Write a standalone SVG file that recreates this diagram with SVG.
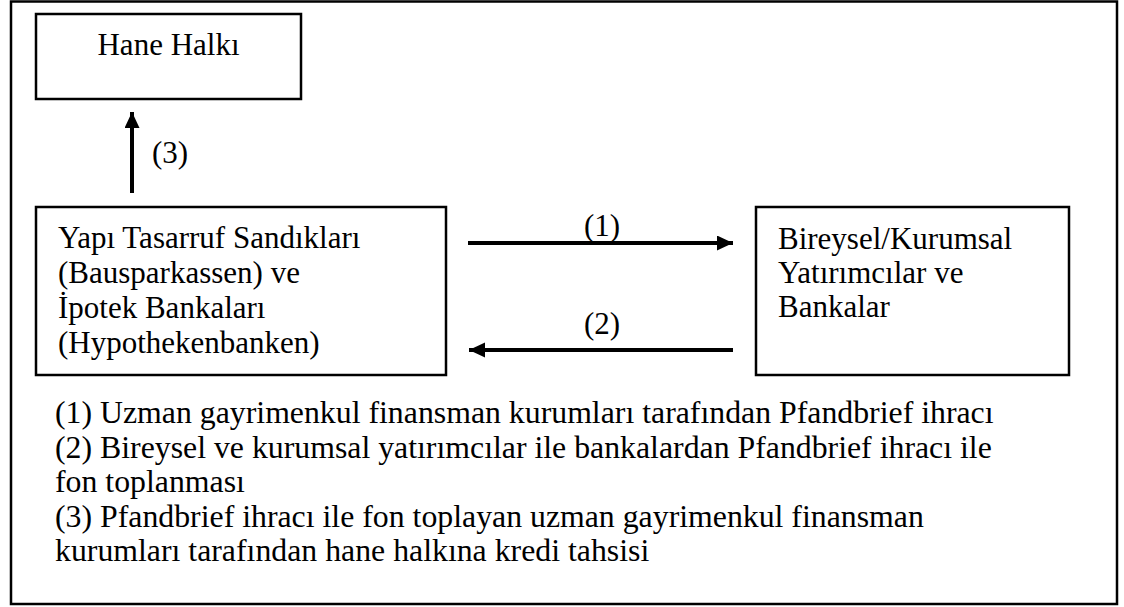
<svg xmlns="http://www.w3.org/2000/svg" width="1124" height="607" viewBox="0 0 1124 607">
  <style>
    .box { fill: #ffffff; stroke: #000000; stroke-width: 2.5; }
    .t { font-family: "Liberation Serif", "Times New Roman", serif; font-size: 31px; fill: #000000; }
    .lg { font-size: 31.8px; }
    .conn { stroke: #000000; stroke-width: 4; fill: none; }
  </style>
  <defs>
    <marker id="ah" markerUnits="userSpaceOnUse" markerWidth="18" markerHeight="18" refX="16" refY="7.5" orient="auto">
      <path d="M0,0 L16,7.5 L0,15 Z" fill="#000000"/>
    </marker>
  </defs>
  <rect x="0" y="0" width="1124" height="607" fill="#ffffff"/>
  <rect id="frame" x="11" y="1.5" width="1106" height="602.5" fill="none" stroke="#000000" stroke-width="2.5"/>

  <g id="hane">
    <rect class="box" x="36" y="14" width="265" height="85"/>
    <text class="t" x="168.5" y="55" text-anchor="middle">Hane Halkı</text>
  </g>

  <g id="yapi">
    <rect class="box" x="36" y="207" width="410" height="168"/>
    <text class="t" x="58" y="248">Yapı Tasarruf Sandıkları</text>
    <text class="t" x="58" y="283">(Bausparkassen) ve</text>
    <text class="t" x="58" y="318">İpotek Bankaları</text>
    <text class="t" x="58" y="353">(Hypothekenbanken)</text>
  </g>

  <g id="yatirimci">
    <rect class="box" x="756" y="207" width="313" height="168"/>
    <text class="t" x="778" y="249">Bireysel/Kurumsal</text>
    <text class="t" x="778" y="283">Yatırımcılar ve</text>
    <text class="t" x="778" y="317">Bankalar</text>
  </g>

  <g id="connectors">
    <line class="conn" x1="132" y1="193" x2="132" y2="112" marker-end="url(#ah)"/>
    <line class="conn" x1="468" y1="243" x2="733" y2="243" marker-end="url(#ah)"/>
    <line class="conn" x1="733" y1="350" x2="469" y2="350" marker-end="url(#ah)"/>
    <text class="t" x="152" y="163">(3)</text>
    <text class="t" x="602" y="236" text-anchor="middle">(1)</text>
    <text class="t" x="602" y="334" text-anchor="middle">(2)</text>
  </g>

  <g id="legend">
    <text class="t lg" x="55" y="423">(1) Uzman gayrimenkul finansman kurumları tarafından Pfandbrief ihracı</text>
    <text class="t lg" x="55" y="457.5">(2) Bireysel ve kurumsal yatırımcılar ile bankalardan Pfandbrief ihracı ile</text>
    <text class="t lg" x="55" y="492">fon toplanması</text>
    <text class="t lg" x="55" y="526.5">(3) Pfandbrief ihracı ile fon toplayan uzman gayrimenkul finansman</text>
    <text class="t lg" x="55" y="561">kurumları tarafından hane halkına kredi tahsisi</text>
  </g>
</svg>
